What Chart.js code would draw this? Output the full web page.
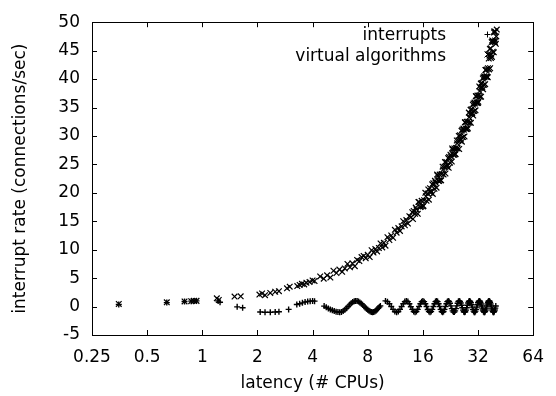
<!DOCTYPE html>
<html><head><meta charset="utf-8">
<script src="https://cdn.jsdelivr.net/npm/chart.js@4.4.0/dist/chart.umd.min.js"></script>
<style>html,body{margin:0;padding:0;background:#fff}#wrap{width:556px;height:396px}</style>
</head><body><div id="wrap"><canvas id="c" width="556" height="396"></canvas></div>
<script>
const xTickValues = [0.25, 0.5, 1, 2, 4, 8, 16, 32, 64];
const yTickValues = [-5, 0, 5, 10, 15, 20, 25, 30, 35, 40, 45, 50];
const seriesLabels = ['interrupts', 'virtual algorithms'];
const xTitle = 'latency (# CPUs)';
const yTitle = 'interrupt rate (connections/sec)';

const interruptsX = [
 0.35,0.64,0.8,0.87,0.9,0.93,1.22,1.25,1.55,1.66,2.07,2.2,2.35,2.5,2.62,2.96,3.28,3.4,3.52,3.64,3.76,3.88,4.0,4.1,
 4.625,4.75,4.875,5.0,5.125,5.25,5.375,5.5,5.625,5.75,5.875,6.0,6.125,6.25,6.375,6.5,6.625,6.75,6.875,7.0,7.125,7.25,7.375,7.5,7.625,7.75,7.875,8.0,8.125,8.25,8.375,8.5,8.625,8.75,8.875,9.0,9.125,9.25,9.375,
 10,10.25,10.5,10.75,11,11.25,11.5,11.75,12,12.25,12.5,12.75,
 13,13.25,13.5,13.75,14,14.25,14.5,14.75,15,15.25,15.5,15.75,
 16,16.25,16.5,16.75,17,17.25,17.5,17.75,18,18.25,18.5,18.75,
 19,19.25,19.5,19.75,20,20.25,20.5,20.75,21,21.25,21.5,21.75,
 22,22.25,22.5,22.75,23,23.25,23.5,23.75,24,24.25,24.5,24.75,25,
 25.25,25.5,25.75,26,26.25,26.5,26.75,27,27.25,27.5,27.75,28,28.25,28.5,
 28.75,29,29.25,29.5,29.75,30,30.25,30.5,30.75,31,31.25,31.5,31.75,32,32.25,
 32.5,32.75,33,33.25,33.5,33.75,34,34.25,34.5,34.75,35,35.25,35.5,35.75,36,36.25,36.5,
 36.75,37,37.25,37.5,37.75,38,38.25,38.5,38.75,39,39.25,39.5,39.75,40
];
const interruptsY = [
 0.35,0.7,0.88,0.95,1.0,1.0,1.0,0.75,-0.05,-0.2,-0.95,-1.0,-1.0,-0.95,-0.9,-0.5,0.35,0.5,0.65,0.8,0.9,0.95,1.0,0.95,
 0.08,-0.12,-0.32,-0.5,-0.66,-0.8,-0.9,-0.97,-1.0,-0.95,-0.8,-0.58,-0.3,0.0,0.3,0.58,0.8,0.95,1.0,0.97,0.87,0.72,0.52,0.3,0.08,-0.15,-0.38,-0.58,-0.75,-0.88,-0.96,-1.0,-0.97,-0.88,-0.72,-0.52,-0.3,-0.08,0.12,
 1.0,0.86,0.5,0.02,-0.5,-0.87,-1.0,-0.86,-0.5,0.0,0.5,0.87,
 1.0,0.87,0.49,-0.02,-0.5,-0.87,-1.0,-0.86,-0.5,0.01,0.5,0.86,
 1.0,0.86,0.5,0.0,-0.51,-0.87,-1.0,-0.87,-0.49,0.0,0.5,0.87,
 1.0,0.87,0.5,0.0,-0.5,-0.86,-1.0,-0.87,-0.5,0.01,0.5,0.86,
 1.0,0.89,0.57,0.12,-0.36,-0.75,-0.97,-0.97,-0.75,-0.36,0.12,0.57,0.89,
 1.0,0.9,0.62,0.22,-0.22,-0.62,-0.9,-1.0,-0.9,-0.62,-0.22,0.22,0.62,0.9,
 1.0,0.91,0.67,0.31,-0.1,-0.5,-0.81,-0.98,-0.98,-0.81,-0.5,-0.1,0.31,0.67,0.91,
 1.0,0.93,0.74,0.45,0.09,-0.27,-0.6,-0.85,-0.98,-0.98,-0.85,-0.6,-0.27,0.09,0.45,0.74,0.93,
 1.0,0.93,0.74,0.45,0.09,-0.27,-0.6,-0.85,-0.98,-0.98,-0.85,-0.6,-0.27,0.09
];

const virtualX = [
 0.35,0.64,0.8,0.87,0.9,0.93,1.2,1.23,1.5,1.62,2.05,2.12,2.2,2.35,2.5,2.62,2.9,3.0,3.3,3.4,3.5,3.6,3.7,3.85,4.0,4.1,
 4.4,4.6,4.8,5.0,5.2,5.4,5.6,5.8,6.0,6.2,6.4,6.6,6.8,7.0,7.2,7.4,7.6,7.8,8.0,8.2,8.4,8.6,8.8,9.0,9.2,9.4,9.6,9.8,10.0,
 10.25,10.5,10.75,11,11.25,11.5,11.75,12,12.25,12.5,12.75,13,13.25,13.5,13.75,14,14.25,14.5,14.75,15,
 15.25,15.5,15.75,16,16.25,16.5,16.75,17,17.25,17.5,17.75,18,18.25,18.5,18.75,19,19.25,19.5,19.75,20,
 20.25,20.5,20.75,21,21.25,21.5,21.75,22,22.25,22.5,22.75,23,23.25,23.5,23.75,24,24.25,24.5,24.75,25,
 25.25,25.5,25.75,26,26.25,26.5,26.75,27,27.25,27.5,27.75,28,28.25,28.5,28.75,29,29.25,29.5,29.75,30,
 30.25,30.5,30.75,31,31.25,31.5,31.75,32,32.25,32.5,32.75,33,33.25,33.5,33.75,34,34.25,34.5,34.75,35,
 35.25,35.5,35.75,36,36.25,36.5,36.75,37,37.25,37.5,37.75,38,38.25,38.5,38.75,39,39.25,39.5,39.75,40,40.25,40.5,
 14.125,14.625,15.125,15.625,16.125,16.625,17.125,17.625,18.125,18.625,19.125,19.625,20.125,20.625,21.125,21.625,
 22.125,22.625,23.125,23.625,24.125,24.625,25.125,25.625,26.125,26.625,27.125,27.625,28.125,28.625,29.125,29.625,
 30.125,30.625,31.125,31.625,32.125,32.625,33.125,33.625,34.125,34.625,35.125,35.625,36.125,36.625,37.125,37.625,
 38.125,38.625,39.125,39.625
];
const virtualY = [
 0.45,0.75,0.9,0.95,1.0,1.0,1.45,1.15,1.75,1.8,2.1,2.3,2.0,2.4,2.6,2.7,3.2,3.5,3.6,3.8,4.0,3.9,4.2,4.3,4.6,4.5,
 5.3,4.9,5.5,5.1,6.3,5.9,6.5,6.1,6.7,7.5,6.9,7.6,7.1,8.2,8.0,8.7,8.9,8.5,9.1,8.7,9.9,9.5,10.1,9.7,10.3,11.1,10.4,11.2,10.7,
 12.2,11.7,12.5,12.1,13.5,13.0,13.8,13.3,14.1,15.0,14.3,15.2,14.6,15.9,15.7,16.6,16.8,16.3,17.1,16.3,
 18.4,17.5,18.6,17.6,18.7,20.0,18.6,19.9,18.8,20.8,20.3,21.5,21.7,20.7,21.8,20.9,23.0,22.1,23.2,22.2,
 23.3,24.6,23.2,24.6,23.4,25.4,24.9,26.1,26.3,25.3,26.4,25.5,27.6,26.7,27.8,26.8,27.9,29.2,27.8,29.2,
 27.7,30.1,29.4,30.9,31.1,29.8,31.1,29.9,32.4,31.2,32.5,31.2,32.5,34.1,32.3,33.9,32.3,34.7,34.0,35.5,
 35.7,34.4,35.7,34.5,37.0,35.8,37.1,35.8,37.1,38.7,36.9,38.5,36.9,39.3,38.6,40.1,40.3,39.0,40.3,39.1,
 41.6,40.4,41.7,40.4,41.9,44.4,41.7,44.1,41.9,45.4,44.3,46.5,46.8,44.8,46.6,44.7,48.4,46.5,48.3,46.2,47.5,48.7,
 15.4,17.4,18.4,17.6,17.7,19.4,20.6,20.0,19.8,22.1,23.2,22.1,22.2,24.1,25.4,24.6,
 24.4,26.7,27.8,26.7,26.8,28.7,30.0,29.2,29.0,31.3,32.4,31.3,31.4,33.3,34.6,33.8,
 33.6,35.9,37.0,35.9,36.0,37.9,39.2,38.4,38.2,40.5,41.6,40.5,40.3,43.6,45.3,43.7,
 43.9,46.6,48.2,46.8
];

const toPoints = (xs, ys) => xs.map((x, i) => ({x: x, y: ys[i]}));

Chart.defaults.font.family = '"DejaVu Sans", sans-serif';
Chart.defaults.font.size = 17;
Chart.defaults.color = '#000';

const framePlugin = {
  id: 'framePlugin',
  afterDatasetsDraw(chart) {
    const ctx = chart.ctx, a = chart.chartArea;
    const xs = chart.scales.x, ys = chart.scales.y;
    const tl = 5;
    ctx.save();
    ctx.strokeStyle = '#000';
    ctx.lineWidth = 1;
    ctx.beginPath();
    xTickValues.forEach(v => {
      const px = Math.round(xs.getPixelForValue(v)) + 0.5;
      ctx.moveTo(px, a.bottom); ctx.lineTo(px, a.bottom - tl);
      ctx.moveTo(px, a.top); ctx.lineTo(px, a.top + tl);
    });
    yTickValues.forEach(v => {
      const py = Math.round(ys.getPixelForValue(v)) + 0.5;
      ctx.moveTo(a.left, py); ctx.lineTo(a.left + tl, py);
      ctx.moveTo(a.right, py); ctx.lineTo(a.right - tl, py);
    });
    ctx.stroke();
    ctx.strokeRect(Math.round(a.left) + 0.5, Math.round(a.top) + 0.5, Math.round(a.right - a.left), Math.round(a.bottom - a.top));
    // key
    ctx.font = '17px "DejaVu Sans", sans-serif';
    ctx.fillStyle = '#000';
    ctx.textAlign = 'right';
    ctx.textBaseline = 'alphabetic';
    const rows = [{y: 40, my: 34, style: 'cross'}, {y: 61, my: 54, style: 'crossRot'}];
    rows.forEach((r, i) => {
      ctx.fillText(chart.data.datasets[i].label, 446, r.y);
      ctx.beginPath();
      const mx = 487.5, my = r.my + 0.5;
      if (r.style === 'cross') {
        ctx.moveTo(mx - 3, my); ctx.lineTo(mx + 3, my);
        ctx.moveTo(mx, my - 3); ctx.lineTo(mx, my + 3);
      } else {
        ctx.moveTo(mx - 3, my - 3); ctx.lineTo(mx + 3, my + 3);
        ctx.moveTo(mx - 3, my + 3); ctx.lineTo(mx + 3, my - 3);
      }
      ctx.stroke();
    });
    ctx.restore();
  }
};

new Chart(document.getElementById('c'), {
  type: 'scatter',
  data: {
    datasets: [
      {label: seriesLabels[0], data: toPoints(interruptsX, interruptsY), pointStyle: 'cross', pointRadius: 3, pointHoverRadius: 3, borderColor: '#000', backgroundColor: '#000', borderWidth: 1.4},
      {label: seriesLabels[1], data: toPoints(virtualX, virtualY), pointStyle: 'crossRot', pointRadius: 4, pointHoverRadius: 4, borderColor: '#000', backgroundColor: '#000', borderWidth: 1.2}
    ]
  },
  options: {
    responsive: false,
    animation: false,
    events: [],
    layout: {padding: {top: 19, right: 16, left: 0, bottom: 0}},
    plugins: {legend: {display: false}, tooltip: {enabled: false}},
    scales: {
      x: {
        type: 'logarithmic', min: 0.25, max: 64,
        afterBuildTicks(s) { s.ticks = xTickValues.map(v => ({value: v})); },
        afterFit(s) { s.height = 61; },
        ticks: {autoSkip: false, maxRotation: 0, minRotation: 0, padding: 12, color: '#000', callback: v => String(v)},
        grid: {display: false, drawTicks: false},
        border: {display: false},
        title: {display: true, text: xTitle, color: '#000', padding: {top: 0, bottom: 2}}
      },
      y: {
        type: 'linear', min: -5, max: 50,
        afterBuildTicks(s) { s.ticks = yTickValues.map(v => ({value: v})); },
        afterFit(s) { s.width = 92; },
        ticks: {padding: 12, color: '#000'},
        grid: {display: false, drawTicks: false},
        border: {display: false},
        title: {display: true, text: yTitle, color: '#000', padding: {top: 10, bottom: 0}}
      }
    }
  },
  plugins: [framePlugin]
});
</script>
</body></html>
